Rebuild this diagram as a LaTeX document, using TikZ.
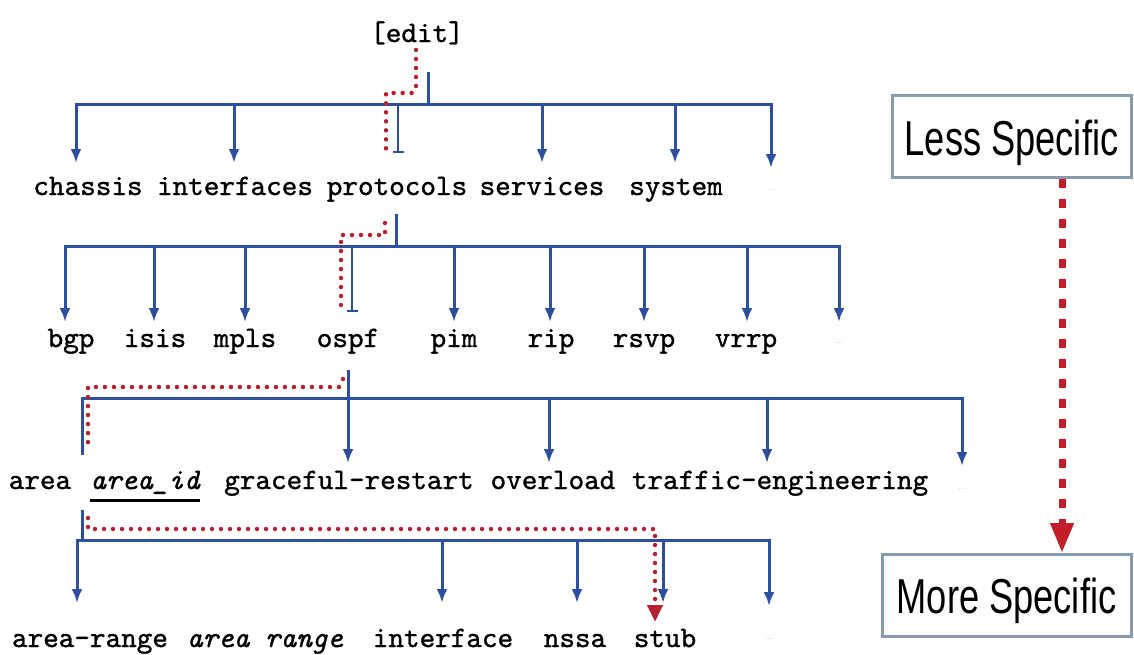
\documentclass[tikz,border=0pt]{standalone}
\usepackage{fontspec}
\newfontfamily\cour{lmmono10-regular.otf}[ItalicFont=lmmono10-italic.otf, FakeBold=1.1]
\newfontfamily\boxfont[FakeStretch=0.74]{Liberation Sans}
\usetikzlibrary{arrows.meta}
\definecolor{tblue}{RGB}{46,78,158}
\definecolor{tdot}{RGB}{178,34,52}
\definecolor{tred}{RGB}{192,30,40}
\definecolor{tbox}{RGB}{135,155,172}
\definecolor{tell}{RGB}{190,190,190}
\begin{document}
\begin{tikzpicture}[x=1pt,y=-1pt,
 lbl/.style={font=\cour\fontsize{29.7}{33}\selectfont, inner sep=0pt, anchor=base},
 ilbl/.style={lbl, font=\cour\itshape\fontsize{29.7}{33}\selectfont},
 ell/.style={font=\sffamily\fontsize{9}{10}\selectfont, text=tell, inner sep=0pt, anchor=base},
 hbar/.style={draw=tblue, line width=3pt, line cap=rect},
 br/.style={draw=tblue, line width=3pt, -{Latex[length=14pt,width=11pt]}},
 brt/.style={draw=tblue, line width=2.5pt, -{Bar[width=11pt,line width=2pt]}},
 stubl/.style={draw=tblue, line width=3pt},
 dotp/.style={draw=tdot, line width=4.5pt, line cap=round, dash pattern=on 0pt off 9pt},
 bigarr/.style={draw=tred, line width=7pt, dash pattern=on 9pt off 11pt, -{Triangle[length=30pt,width=22pt]}, tred},
 specbox/.style={draw=tbox, line width=3pt, minimum height=82pt, inner sep=0pt,
   font=\boxfont\fontsize{49}{55}\selectfont, text depth=0pt}
]
\useasboundingbox (0,0) rectangle (1134,654);

% ---------- level 0 ----------
\node[lbl] (edit) at (417,42) {[edit]};

% ---------- level 1 ----------
\draw[stubl] (428,72) -- (428,104);
\draw[hbar] (76,104) -- (771,104);
\foreach \x in {76,234,542,675} \draw[br] (\x,104) -- (\x,163);
\draw[br] (771,104) -- (771,168);
\draw[brt] (398,104) -- (398,153);
\draw[dotp] (416,50) -- (416,89) -- (412,93) -- (386,93) -- (386,153);

\node[lbl] (chassis) at (88,195) {chassis};
\node[lbl] (interfaces) at (235,195) {interfaces};
\node[lbl] (protocols) at (397,195) {protocols};
\node[lbl] (services) at (542,195) {services};
\node[lbl] (system) at (676,195) {system};
\node[ell] (e1) at (771,190) {...};

% ---------- level 2 ----------
\draw[stubl] (396,214) -- (396,246);
\draw[hbar] (65,246) -- (839,246);
\foreach \x in {65,154,245,454,550,644,747,839} \draw[br] (\x,246) -- (\x,322);
\draw[brt] (352,246) -- (352,312);
\draw[dotp] (385,223) -- (385,235) -- (341,235) -- (341,307);

\node[lbl] (bgp) at (71,347) {bgp};
\node[lbl] (isis) at (155,347) {isis};
\node[lbl] (mpls) at (245,347) {mpls};
\node[lbl] (ospf) at (348,347) {ospf};
\node[lbl] (pim) at (454,347) {pim};
\node[lbl] (rip) at (551,347) {rip};
\node[lbl] (rsvp) at (644,347) {rsvp};
\node[lbl] (vrrp) at (746,347) {vrrp};
\node[ell] (e2) at (839,343) {...};

% ---------- level 3 ----------
\draw[hbar] (82,398) -- (962,398);
\draw[stubl] (82,398) -- (82,455);
\draw[br] (348,370) -- (348,463);
\foreach \x in {549,767} \draw[br] (\x,398) -- (\x,463);
\draw[br] (962,398) -- (962,466);
\draw[dotp] (343,379) -- (339,387) -- (88,387) -- (88,447);

\node[lbl] (area) at (40,489) {area};
\node[ilbl] (aid) at (145,489) {area\_id};
\draw[line width=3pt] ([yshift=-11pt]aid.base west) -- ([yshift=-11pt]aid.base east);
\node[lbl] (graceful) at (349,489) {graceful-restart};
\node[lbl] (overload) at (553,489) {overload};
\node[lbl] (traffic) at (780,489) {traffic-engineering};
\node[ell] (e3) at (962,489) {...};

% ---------- level 4 ----------
\draw[stubl] (82,510) -- (82,540);
\draw[hbar] (77,540) -- (769,540);
\foreach \x in {77,442,577,663} \draw[br] (\x,540) -- (\x,603);
\draw[br] (769,540) -- (769,606);
\draw[dotp, -{Triangle[length=17pt,width=15pt]}] (88,518) -- (88,529) -- (655,529) -- (655,622);

\node[lbl] (arearange) at (90,647) {area-range};
\node[ilbl] (arange) at (265,647) {area range};
\node[lbl] (interface) at (443,647) {interface};
\node[lbl] (nssa) at (575,647) {nssa};
\node[lbl] (stub) at (665,647) {stub};
\node[ell] (e4) at (769,639) {...};

% ---------- right side ----------
\node[specbox, minimum width=239pt] (less) at (1011.5,136) {\raisebox{-4pt}{Less Specific}};
\node[specbox, minimum width=249pt] (more) at (1006.5,595.5) {\raisebox{-1pt}{More Specific}};
\coordinate (ax) at (1062,0);
\draw[bigarr] (less.south -| ax) -- (more.north -| ax);
\end{tikzpicture}
\end{document}
